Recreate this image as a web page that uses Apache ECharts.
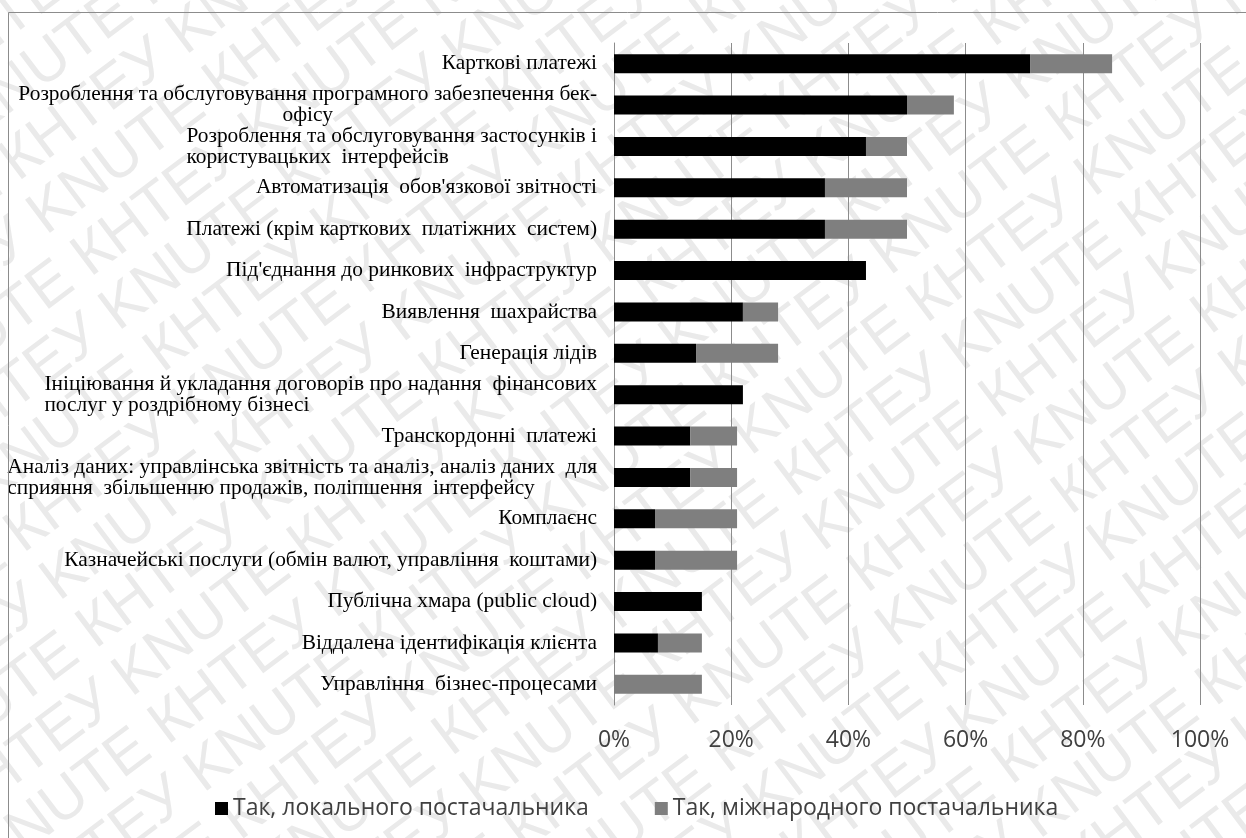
<!DOCTYPE html>
<html>
<head>
<meta charset="utf-8">
<script src="https://cdn.jsdelivr.net/npm/echarts@6/dist/echarts.min.js"></script>
<style>
  html, body { margin: 0; padding: 0; background: #ffffff; }
  #chart { width: 1246px; height: 838px; }
</style>
</head>
<body>
<div id="chart"></div>
<script>
// Categories, top to bottom ("\n" marks where a long label wraps)
const categories = [
  'Карткові платежі',
  'Розроблення та обслуговування програмного забезпечення бек-\nофісу',
  'Розроблення та обслуговування застосунків і\nкористувацьких  інтерфейсів',
  'Автоматизація  обов\'язкової звітності',
  'Платежі (крім карткових  платіжних  систем)',
  'Під\'єднання до ринкових  інфраструктур',
  'Виявлення  шахрайства',
  'Генерація лідів',
  'Ініціювання й укладання договорів про надання  фінансових\nпослуг у роздрібному бізнесі',
  'Транскордонні  платежі',
  'Аналіз даних: управлінська звітність та аналіз, аналіз даних  для\nсприяння  збільшенню продажів, поліпшення  інтерфейсу',
  'Комплаєнс',
  'Казначейські послуги (обмін валют, управління  коштами)',
  'Публічна хмара (public cloud)',
  'Віддалена ідентифікація клієнта',
  'Управління  бізнес-процесами'
];

// Share of respondents, %
const localVendor = [71, 50, 43, 36, 36, 43, 22, 14, 22, 13, 13, 7, 7, 15, 7.5, 0];
const intlVendor  = [14, 8, 7, 14, 14, 0, 6, 14, 0, 8, 8, 14, 14, 0, 7.5, 15];

const seriesNames = ['Так, локального постачальника', 'Так, міжнародного постачальника'];
const xTicks = [0, 20, 40, 60, 80, 100];

// Wrapped tails that sit centred under their first line
const centredTails = new Set(['офісу']);

function categoryLabel(value) {
  const lines = value.split('\n');
  if (lines.length === 1) return value;
  return lines.map((ln, i) => {
    if (i === 0) return '{l|' + ln + '}';
    return (centredTails.has(ln) ? '{c|' : '{l|') + ln + '}';
  }).join('\n');
}

// Background lettering
const wmLine = 'КНТЕУ KNUTE '.repeat(9);
const wmTexts = [];
for (let i = -16; i <= 16; i++) {
  wmTexts.push({
    type: 'text',
    x: -1200 + (i % 2 === 0 ? 0 : 210),
    y: i * 60,
    z: -10,
    silent: true,
    style: {
      text: wmLine,
      fontFamily: 'Liberation Sans',
      fontSize: 60,
      fill: '#eaeaea'
    }
  });
}

const labelFont = { fontFamily: 'Liberation Serif', fontSize: 21.4, lineHeight: 21, color: '#000000' };

const chart = echarts.init(document.getElementById('chart'), null, { renderer: 'canvas' });

chart.setOption({
  backgroundColor: '#ffffff',
  animation: false,
  graphic: [
    {
      type: 'group',
      x: 623,
      y: 419,
      rotation: 37 * Math.PI / 180,
      silent: true,
      z: -10,
      children: wmTexts
    },
    {
      type: 'polyline',
      silent: true,
      z: 5,
      shape: { points: [[8.5, 900], [8.5, 12.5], [1300, 12.5]] },
      style: { stroke: '#8c8c8c', lineWidth: 1, fill: null }
    }
  ],
  grid: { left: 614, right: 46, top: 43, bottom: 133, containLabel: false },
  legend: {
    data: seriesNames,
    left: 210,
    top: 792,
    icon: 'rect',
    itemWidth: 13,
    itemHeight: 13,
    itemGap: 66,
    textStyle: { fontFamily: 'Open Sans', fontSize: 23, color: '#404040' }
  },
  xAxis: {
    type: 'value',
    min: 0,
    max: 100,
    interval: 20,
    axisLine: { show: false },
    axisTick: { show: false },
    splitLine: { show: true, lineStyle: { color: '#8c8c8c', width: 1 } },
    axisLabel: {
      formatter: v => xTicks.includes(v) ? v + '%' : '',
      fontFamily: 'Open Sans',
      fontSize: 23,
      color: '#404040',
      margin: 24
    }
  },
  yAxis: {
    type: 'category',
    inverse: true,
    data: categories,
    axisLine: { show: true, lineStyle: { color: '#8c8c8c', width: 1 } },
    axisTick: { show: false },
    axisLabel: Object.assign({
      formatter: categoryLabel,
      margin: 17,
      rich: {
        l: Object.assign({ align: 'left' }, labelFont),
        c: Object.assign({ align: 'center' }, labelFont)
      }
    }, labelFont)
  },
  series: [
    {
      name: seriesNames[0],
      type: 'bar',
      stack: 'total',
      barWidth: 19,
      itemStyle: { color: '#000000' },
      data: localVendor
    },
    {
      name: seriesNames[1],
      type: 'bar',
      stack: 'total',
      barWidth: 19,
      itemStyle: { color: '#7f7f7f' },
      data: intlVendor
    }
  ]
});
</script>
</body>
</html>
